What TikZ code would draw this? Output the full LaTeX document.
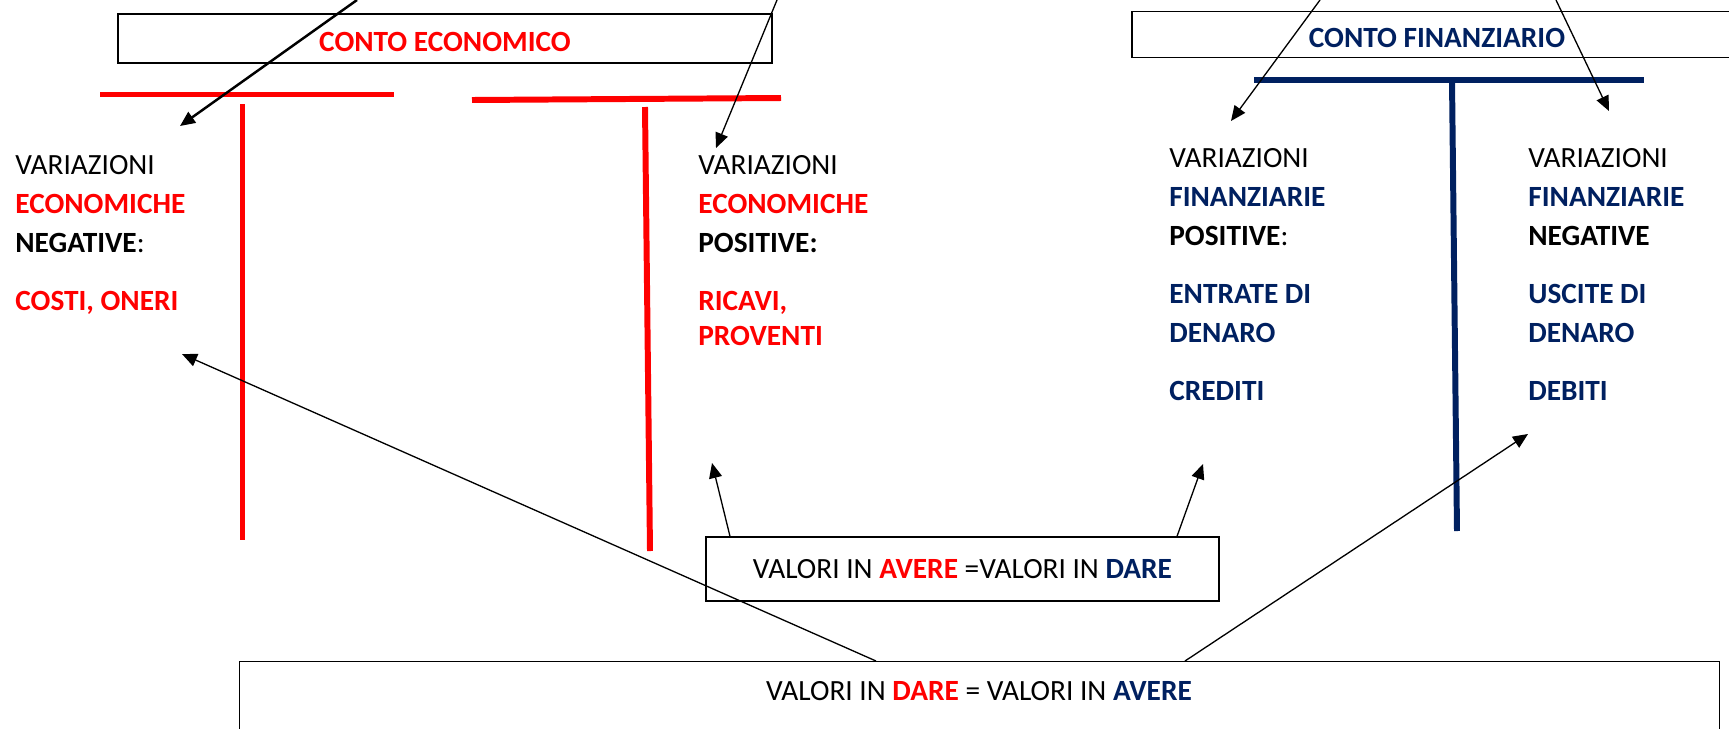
\documentclass[tikz,border=0pt]{standalone}
\usepackage{fontspec}
\setmainfont{Carlito}
\usetikzlibrary{arrows.meta}
\definecolor{econred}{RGB}{255,0,0}
\definecolor{finblue}{RGB}{0,32,96}
\tikzstyle{title box}=[draw, line width=0.75pt, inner sep=0pt, text height=15pt, text depth=0pt, font=\fontsize{16.7}{22.1}\selectfont\bfseries]
\tikzstyle{value box}=[draw, line width=0.75pt, inner sep=0pt]
\tikzstyle{column}=[anchor=north west, inner sep=0pt, align=left]
\tikzstyle{eco bar}=[econred, line width=3.4pt]
\tikzstyle{fin bar}=[finblue, line width=3.4pt]
\tikzstyle{pointer}=[line width=0.75pt, -{Triangle[length=0.3cm, width=0.26cm]}]
\tikzstyle{thick pointer}=[pointer, line width=1.4pt]
\newcommand{\eco}[1]{\textbf{\color{econred}#1}}
\newcommand{\fin}[1]{\textbf{\color{finblue}#1}}

\begin{document}
\begin{tikzpicture}[x=0.02cm, y=-0.02cm, font=\fontsize{16.7}{22.1}\selectfont]
      \useasboundingbox (0,0) rectangle (1729,728);
      \clip (0,0) rectangle (1729,728);
      % titles
      \node[title box, text=econred, minimum width=13.08cm, minimum height=0.98cm] (ecoTitle) at (445,38.5) {CONTO ECONOMICO};
      \node[title box, text=finblue, minimum width=12.2cm, minimum height=0.92cm] (finTitle) at (1437,34.5) {CONTO FINANZIARIO};
      % the T accounts
      \draw[eco bar] (100,94.5) -- (394,94.5);
      \draw[eco bar] (242.5,104) -- (242.5,540);
      \draw[eco bar] (472,100) -- (781,98);
      \draw[eco bar] (645,107) -- (650,551);
      \draw[fin bar] (1254,80) -- (1644,80);
      \draw[fin bar] (1452,80) -- (1457,531);
      % columns
      \node[column] (negEco) at (15,155) {VARIAZIONI\\ \eco{ECONOMICHE}\\ \textbf{NEGATIVE}:\\[11pt] \eco{COSTI, ONERI}};
      \node[column] (posEco) at (698,155) {VARIAZIONI\\ \eco{ECONOMICHE}\\ \textbf{POSITIVE:}\\[11pt] \eco{RICAVI,}\\[-2pt] \eco{PROVENTI}};
      \node[column] (posFin) at (1169,148) {VARIAZIONI\\ \fin{FINANZIARIE}\\ \textbf{POSITIVE}:\\[11pt] \fin{ENTRATE DI}\\ \fin{DENARO}\\[11pt] \fin{CREDITI}};
      \node[column] (negFin) at (1528,148) {VARIAZIONI\\ \fin{FINANZIARIE}\\ \textbf{NEGATIVE}\\[11pt] \fin{USCITE DI}\\ \fin{DENARO}\\[11pt] \fin{DEBITI}};
      % values
      \node[value box, minimum width=10.26cm, minimum height=1.28cm] (avereBox) at (962.5,569) {VALORI IN \eco{AVERE} =VALORI IN \fin{DARE}};
      \node[value box, anchor=north west, minimum width=29.6cm, minimum height=2cm] (dareBox) at (239,661) {};
      \node (dareText) at (979,691) {VALORI IN \eco{DARE} = VALORI IN \fin{AVERE}};
      % arrows
      \coordinate (ecoFromL) at (357,0);
      \coordinate (ecoToL) at (180,126);
      \coordinate (ecoFromR) at (777,0);
      \coordinate (ecoToR) at (716,148);
      \coordinate (finFromL) at (1320,0);
      \coordinate (finToL) at (1231,121);
      \coordinate (finFromR) at (1556,0);
      \coordinate (finToR) at (1609,111);
      \coordinate (avereToL) at (712,463);
      \coordinate (avereToR) at (1203,464);
      \coordinate (dareToL) at (182,354);
      \coordinate (dareToR) at (1528,434);
      \draw[thick pointer] (ecoFromL) -- (ecoToL);
      \draw[pointer] (ecoFromR) -- (ecoToR);
      \draw[pointer] (finFromL) -- (finToL);
      \draw[pointer] (finFromR) -- (finToR);
      \draw[pointer] (730,0 |- avereBox.north) -- (avereToL);
      \draw[pointer] (1177,0 |- avereBox.north) -- (avereToR);
      \draw[pointer] (876,0 |- dareBox.north) -- (dareToL);
      \draw[pointer] (1185,0 |- dareBox.north) -- (dareToR);
    \end{tikzpicture}
\end{document}
